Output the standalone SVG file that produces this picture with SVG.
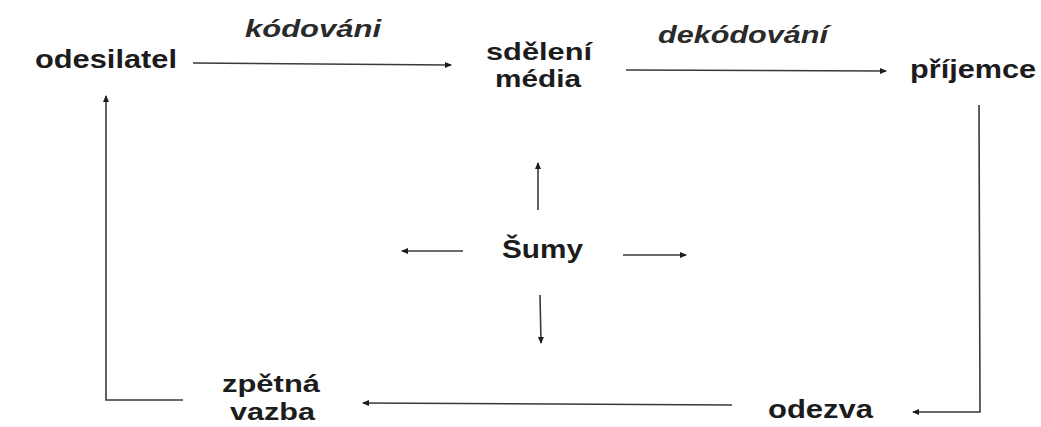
<svg xmlns="http://www.w3.org/2000/svg" width="1041" height="427" viewBox="0 0 1041 427">
  <style>
    .lbl { font-family: "Liberation Sans", Arial, sans-serif; font-weight: bold; font-size: 26px; fill: #1c1c1c; }
    .two { font-size: 24px; }
    .ital { font-family: "Liberation Sans", Arial, sans-serif; font-weight: bold; font-style: italic; font-size: 24px; fill: #2a2a2a; }
    .ln { stroke: #3a3a3a; stroke-width: 1.6; fill: none; }
  </style>
  <defs>
    <marker id="dot" viewBox="0 0 8 8" refX="6" refY="4" markerWidth="8" markerHeight="8" markerUnits="userSpaceOnUse" orient="auto">
      <path d="M0,1 L7,4 L0,7 Z" fill="#1c1c1c"/>
    </marker>
  </defs>
  <rect width="1041" height="427" fill="#ffffff"/>

  <!-- connectors -->
  <g id="connectors">
    <!-- encoding: sender to message -->
    <line class="ln" x1="193" y1="63" x2="451" y2="65" marker-end="url(#dot)"/>
    <!-- decoding: message to receiver -->
    <line class="ln" x1="626" y1="70" x2="886" y2="71" marker-end="url(#dot)"/>
    <!-- receiver down to response -->
    <polyline class="ln" points="979,105 980,412 913,412" marker-end="url(#dot)"/>
    <!-- response to feedback -->
    <line class="ln" x1="732" y1="405" x2="363" y2="403" marker-end="url(#dot)"/>
    <!-- feedback back up to sender -->
    <polyline class="ln" points="183,400 106,400 106,96" marker-end="url(#dot)"/>
    <!-- noise spreading out -->
    <line class="ln" x1="538" y1="210" x2="538" y2="163" marker-end="url(#dot)"/>
    <line class="ln" x1="463" y1="251" x2="402" y2="251" marker-end="url(#dot)"/>
    <line class="ln" x1="623" y1="255" x2="686" y2="255" marker-end="url(#dot)"/>
    <line class="ln" x1="540" y1="295" x2="541" y2="343" marker-end="url(#dot)"/>
  </g>

  <g id="label-kodovani"><text class="ital" x="245" y="37" textLength="136" lengthAdjust="spacingAndGlyphs">kódováni</text></g>
  <g id="label-dekodovani"><text class="ital" x="658" y="43" textLength="170" lengthAdjust="spacingAndGlyphs">dekódování</text></g>

  <g id="node-odesilatel"><text class="lbl" x="35" y="68" textLength="142" lengthAdjust="spacingAndGlyphs">odesilatel</text></g>
  <g id="node-sdeleni">
    <text class="lbl two" x="486" y="60" textLength="106" lengthAdjust="spacingAndGlyphs">sdělení</text>
    <text class="lbl two" x="495" y="87" textLength="86" lengthAdjust="spacingAndGlyphs">média</text>
  </g>
  <g id="node-prijemce"><text class="lbl" x="910" y="78" textLength="126" lengthAdjust="spacingAndGlyphs">příjemce</text></g>
  <g id="node-sumy"><text class="lbl" x="502" y="258" textLength="81" lengthAdjust="spacingAndGlyphs">Šumy</text></g>
  <g id="node-zpetna-vazba">
    <text class="lbl two" x="222" y="392" textLength="98" lengthAdjust="spacingAndGlyphs">zpětná</text>
    <text class="lbl two" x="230" y="420" textLength="85" lengthAdjust="spacingAndGlyphs">vazba</text>
  </g>
  <g id="node-odezva"><text class="lbl" x="768" y="418" textLength="105" lengthAdjust="spacingAndGlyphs">odezva</text></g>
</svg>
